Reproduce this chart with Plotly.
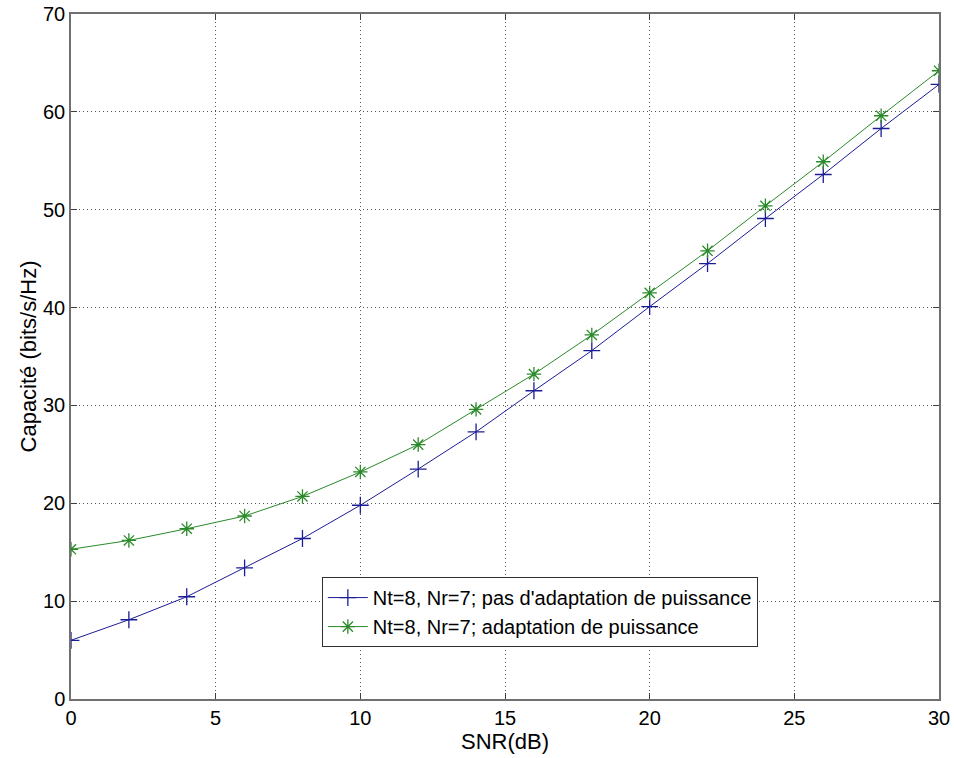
import plotly.graph_objects as go

# SNR sweep (dB)
snr_db = [0, 2, 4, 6, 8, 10, 12, 14, 16, 18, 20, 22, 24, 26, 28, 30]

# Capacity without power adaptation (bits/s/Hz)
cap_no_adapt = [6.0, 8.1, 10.45, 13.4, 16.4, 19.8, 23.5, 27.3, 31.5, 35.6,
                40.1, 44.5, 49.1, 53.6, 58.3, 62.8]

# Capacity with power adaptation (bits/s/Hz)
cap_adapt = [15.3, 16.2, 17.4, 18.7, 20.7, 23.2, 26.0, 29.6, 33.2, 37.2,
             41.5, 45.8, 50.4, 54.9, 59.6, 64.2]

x_ticks = [0, 5, 10, 15, 20, 25, 30]
y_ticks = [0, 10, 20, 30, 40, 50, 60, 70]

label_no_adapt = "Nt=8, Nr=7; pas d'adaptation de puissance"
label_adapt = "Nt=8, Nr=7; adaptation de puissance"

FONT = "Liberation Sans, Arial, sans-serif"
BLUE = "#1c1c96"
GREEN = "#2a8a2a"

fig = go.Figure()
fig.add_trace(go.Scatter(
    x=snr_db, y=cap_no_adapt, name=label_no_adapt,
    mode="lines+markers",
    line=dict(color=BLUE, width=1),
    marker=dict(symbol="cross-thin", size=12, line=dict(color=BLUE, width=1.3)),
))
fig.add_trace(go.Scatter(
    x=snr_db, y=cap_adapt, name=label_adapt,
    mode="lines+markers",
    line=dict(color=GREEN, width=1),
    marker=dict(symbol="asterisk", size=12, line=dict(color=GREEN, width=1.3)),
))

axis_common = dict(
    showline=True, linecolor="#707070", linewidth=1.5, mirror="allticks",
    ticks="inside", ticklen=6, tickcolor="#404040", tickwidth=1,
    showgrid=True, gridcolor="#555555", griddash="1px,3px", gridwidth=1,
    zeroline=False, automargin=False,
    tickfont=dict(family=FONT, size=20, color="black"),
    title_font=dict(family=FONT, size=22, color="black"),
)

fig.update_xaxes(
    range=[0, 30], tickvals=x_ticks, ticktext=[str(v) for v in x_ticks],
    title_text="SNR(dB)", title_standoff=0, **axis_common,
)
fig.update_yaxes(
    range=[0, 70], tickvals=y_ticks, ticktext=[str(v) for v in y_ticks],
    title_text="Capacité (bits/s/Hz)", title_standoff=0, **axis_common,
)

fig.update_layout(
    width=954, height=758,
    margin=dict(l=71, r=15, t=14, b=59),
    paper_bgcolor="white", plot_bgcolor="white",
    font=dict(family=FONT, color="black"),
    showlegend=True,
    legend=dict(
        x=0.289, y=0.178, xanchor="left", yanchor="top",
        bgcolor="white", bordercolor="#303030", borderwidth=1,
        font=dict(family=FONT, size=20, color="black"),
        tracegroupgap=0, itemwidth=40,
    ),
)

fig.write_html("out.html")
